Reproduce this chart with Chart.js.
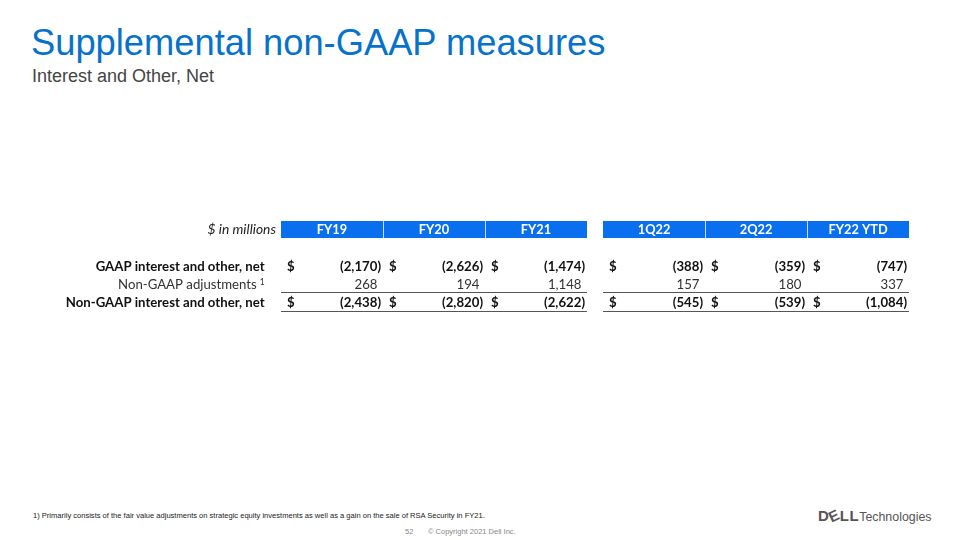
<!DOCTYPE html>
<html>
<head>
<meta charset="utf-8">
<script src="https://cdn.jsdelivr.net/npm/chart.js@4.4.1/dist/chart.umd.min.js"></script>
<style>
  body { margin: 0; background: #fff; }
  .slide { position: relative; width: 960px; height: 540px; overflow: hidden; font-family: "Liberation Sans", Arial, sans-serif; }
  .title { position: absolute; left: 31px; top: 25px; font-size: 36.3px; line-height: 36px; color: #0672cb; white-space: nowrap; }
  .subtitle { position: absolute; left: 32px; top: 67px; font-size: 18px; line-height: 18px; color: #444; white-space: nowrap; }
  .chartBox { position: absolute; left: 0; top: 200px; width: 960px; height: 130px; }
  .note { position: absolute; left: 33px; top: 511px; font-size: 7.55px; line-height: 10px; color: #222; white-space: nowrap; }
  .page { position: absolute; left: 405px; top: 527px; font-size: 7.5px; line-height: 9px; color: #888; }
  .copy { position: absolute; left: 428px; top: 527px; font-size: 7.5px; line-height: 9px; color: #888; white-space: nowrap; }
  .logo { position: absolute; left: 818px; top: 507px; color: #555; white-space: nowrap; line-height: 18px; }
  .logo b { font-size: 15px; letter-spacing: 0.5px; }
  .logo b i { display: inline-block; font-style: normal; transform: rotate(-25deg); }
  .logo span { font-size: 12.4px; }
</style>
</head>
<body>
<div class="slide">
  <div class="title">Supplemental non-GAAP measures</div>
  <div class="subtitle">Interest and Other, Net</div>
  <div class="chartBox"><canvas id="tableChart"></canvas></div>
  <div class="note">1) Primarily consists of the fair value adjustments on strategic equity investments as well as a gain on the sale of RSA Security in FY21.</div>
  <div class="page">52</div>
  <div class="copy">© Copyright 2021 Dell Inc.</div>
  <div class="logo"><b>D<i>E</i>LL</b><span>Technologies</span></div>
</div>

<script>
// table data
const unitLabel = '$ in millions';
const periods = ['FY19', 'FY20', 'FY21', '1Q22', '2Q22', 'FY22 YTD'];
const periodGroup = [0, 0, 0, 1, 1, 1];
const rowLabels = ['GAAP interest and other, net', 'Non-GAAP adjustments', 'Non-GAAP interest and other, net'];
const rowNotes = ['', '1', ''];
const gaapNet = [-2170, -2626, -1474, -388, -359, -747];
const nonGaapAdj = [268, 194, 1148, 157, 180, 337];
const nonGaapNet = [-2438, -2820, -2622, -545, -539, -1084];

const rowValues = [gaapNet, nonGaapAdj, nonGaapNet];
const rowBold = [true, false, true];
const rowDollar = [true, false, true];

const GAP = 0.157;          // space between the annual and quarterly blocks, in column units
const HEADER_ROW = -2.08;   // header band sits above the first data row

function colCenter(i) {
  return i + 0.5 + periodGroup[i] * GAP;
}

function fmt(v) {
  const s = Math.abs(v).toLocaleString('en-US');
  return v < 0 ? '(' + s + ')' : s;
}

const FONT = 'Lato, "Open Sans", sans-serif';
const SIZE = '13.2px ';

const tablePlugin = {
  id: 'tablePlugin',
  afterDatasetsDraw(chart) {
    const ctx = chart.ctx;
    const x = chart.scales.x;
    const y = chart.scales.y;
    ctx.save();

    // header band
    const hTop = Math.round(y.getPixelForValue(HEADER_ROW) - 8.5);
    const hMid = y.getPixelForValue(HEADER_ROW);
    periods.forEach((p, i) => {
      const l = Math.round(x.getPixelForValue(colCenter(i) - 0.5));
      const r = Math.round(x.getPixelForValue(colCenter(i) + 0.5));
      ctx.fillStyle = '#0a6fee';
      ctx.fillRect(l, hTop, r - l, 17);
      if (i > 0 && periodGroup[i] === periodGroup[i - 1]) {
        ctx.fillStyle = '#cfe0fb';
        ctx.fillRect(l, hTop, 1, 17);
      }
      ctx.fillStyle = '#fff';
      ctx.font = 'bold 12.8px ' + FONT;
      ctx.textAlign = 'center';
      ctx.textBaseline = 'middle';
      ctx.fillText(p, x.getPixelForValue(colCenter(i)), hMid + 0.5);
    });

    // unit label
    const labelRight = x.getPixelForValue(-0.16);
    ctx.fillStyle = '#222';
    ctx.font = 'italic 13.8px ' + FONT;
    ctx.textAlign = 'right';
    ctx.fillText(unitLabel, x.getPixelForValue(-0.05), hMid);

    // row labels and values
    rowLabels.forEach((lab, r) => {
      const meta = chart.getDatasetMeta(r);
      const py = meta.data[0].y;
      ctx.font = (rowBold[r] ? 'bold ' : '') + SIZE + FONT;
      ctx.fillStyle = rowBold[r] ? '#111' : '#333';
      ctx.textAlign = 'right';
      let lr = labelRight;
      if (rowNotes[r]) {
        ctx.font = '8.5px ' + FONT;
        ctx.fillText(rowNotes[r], lr, py - 3);
        lr -= ctx.measureText(rowNotes[r]).width + 3;
        ctx.font = SIZE + FONT;
      }
      ctx.fillText(lab, lr, py);

      ctx.font = (rowBold[r] ? 'bold ' : '') + SIZE + FONT;
      meta.data.forEach((pt, i) => {
        const v = rowValues[r][i];
        const l = x.getPixelForValue(colCenter(i) - 0.5);
        const rt = x.getPixelForValue(colCenter(i) + 0.5);
        if (rowDollar[r]) {
          ctx.textAlign = 'left';
          ctx.fillText('$', l + 6, pt.y);
        }
        ctx.textAlign = 'right';
        const closeW = v < 0 ? 0 : ctx.measureText(')').width;
        ctx.fillText(fmt(v), rt - 2 - closeW, pt.y);
      });
    });

    // rule lines under the adjustments row and under the totals
    ctx.strokeStyle = '#555';
    ctx.lineWidth = 1;
    [0, 1].forEach(g => {
      const idx = periodGroup.map((pg, i) => pg === g ? i : -1).filter(i => i >= 0);
      const l = Math.round(x.getPixelForValue(colCenter(idx[0]) - 0.5));
      const rt = Math.round(x.getPixelForValue(colCenter(idx[idx.length - 1]) + 0.5));
      [1.39, 2.44].forEach(v => {
        const ly = Math.round(y.getPixelForValue(v)) + 0.5;
        ctx.beginPath();
        ctx.moveTo(l, ly);
        ctx.lineTo(rt, ly);
        ctx.stroke();
      });
    });
    ctx.restore();
  }
};

const ctx = document.getElementById('tableChart').getContext('2d');
const tableChart = new Chart(ctx, {
  type: 'scatter',
  data: {
    datasets: rowValues.map((vals, r) => ({
      label: rowLabels[r],
      data: vals.map((v, i) => ({ x: colCenter(i), y: r })),
      pointRadius: 0,
      pointHoverRadius: 0
    }))
  },
  options: {
    responsive: true,
    maintainAspectRatio: false,
    animation: false,
    events: [],
    layout: { padding: 0 },
    plugins: {
      legend: { display: false },
      tooltip: { enabled: false }
    },
    scales: {
      x: { type: 'linear', display: false, min: -281 / 102, max: (960 - 281) / 102 },
      y: { type: 'linear', display: false, reverse: true, min: -67 / 18, max: (130 - 67) / 18 }
    }
  },
  plugins: [tablePlugin]
});
</script>
</body>
</html>
